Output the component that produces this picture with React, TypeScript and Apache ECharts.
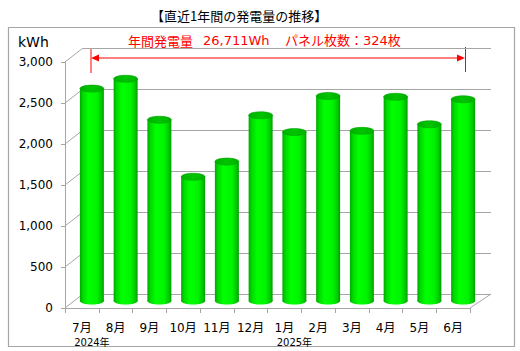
import React, { useEffect, useRef } from 'react';
import * as echarts from 'echarts';

const months = ['7月', '8月', '9月', '10月', '11月', '12月', '1月', '2月', '3月', '4月', '5月', '6月'];
const years = ['2024年', '', '', '', '', '', '2025年', '', '', '', '', ''];
const generation = [2590, 2710, 2210, 1515, 1700, 2265, 2060, 2500, 2075, 2490, 2155, 2460];
const yTicks = [0, 500, 1000, 1500, 2000, 2500, 3000];
const titleText = '【直近1年間の発電量の推移】';
const annoLabel = '年間発電量';
const annoTotal = '26,711Wh';
const annoPanels = 'パネル枚数：324枚';
const unitText = 'kWh';

const GRAY = '#a6a6a6';
const RED = '#ff0000';
const DX = 9;
const DY = 7;
const JP = '"Noto Sans CJK JP", sans-serif';
const NUM = '"DejaVu Sans", "Noto Sans CJK JP", sans-serif';

export default function App() {
  const ref = useRef<HTMLDivElement>(null);
  useEffect(() => {
    if (!ref.current) return;
    const chart = echarts.init(ref.current, undefined, { renderer: 'svg' });
    const bodyGrad = {
      type: 'linear', x: 0, y: 0, x2: 1, y2: 0,
      colorStops: [
        { offset: 0, color: '#00a800' },
        { offset: 0.12, color: '#00d800' },
        { offset: 0.35, color: '#00ff00' },
        { offset: 0.7, color: '#00f400' },
        { offset: 0.9, color: '#00c800' },
        { offset: 1, color: '#009a00' },
      ],
    };
    const topGrad = {
      type: 'linear', x: 0, y: 0, x2: 1, y2: 0,
      colorStops: [
        { offset: 0, color: '#00b000' },
        { offset: 0.5, color: '#00c400' },
        { offset: 1, color: '#00b000' },
      ],
    };
    const option: any = {
      animation: false,
      backgroundColor: '#ffffff',
      title: {
        text: titleText,
        left: 146,
        top: 4,
        textStyle: { fontSize: 13, fontWeight: 'normal', color: '#000', fontFamily: JP },
      },
      grid: [
        { left: 75, right: 40, top: 55, bottom: 50 },
        { left: 65, right: 50, top: 62, bottom: 43 },
        { left: 83, right: 29, top: 48, bottom: 57 },
      ],
      xAxis: [
        { gridIndex: 0, type: 'category', data: months, show: false },
        {
          gridIndex: 1, type: 'category', data: months,
          axisLine: { show: true, lineStyle: { color: GRAY } },
          axisTick: { show: true, length: 5, interval: 0, lineStyle: { color: GRAY } },
          axisLabel: { interval: 0, margin: 14, fontSize: 12, color: '#000', fontFamily: NUM },
        },
        {
          gridIndex: 1, type: 'category', data: years, position: 'bottom',
          axisLine: { show: false }, axisTick: { show: false },
          axisLabel: { interval: 0, margin: 29, fontSize: 10, color: '#000', fontFamily: NUM, padding: [0, 0, 0, 20] },
        },
        { gridIndex: 2, type: 'category', data: months, show: false },
      ],
      yAxis: [
        { gridIndex: 0, type: 'value', min: 0, max: 3000, interval: 500, show: false },
        {
          gridIndex: 1, type: 'value', min: 0, max: 3000, interval: 500,
          axisLine: { show: true, lineStyle: { color: GRAY } },
          axisTick: { show: true, length: 4, lineStyle: { color: GRAY } },
          splitLine: { show: false },
          axisLabel: {
            margin: 12, fontSize: 12, color: '#000', fontFamily: NUM,
            formatter: (v: number) => v.toLocaleString('en-US'),
          },
        },
        {
          gridIndex: 2, type: 'value', min: 0, max: 3000, interval: 500,
          axisLine: { show: false }, axisTick: { show: false }, axisLabel: { show: false },
          splitLine: { show: true, lineStyle: { color: GRAY, width: 1 } },
        },
      ],
      graphic: [
        { type: 'rect', shape: { x: 8.5, y: 27.5, width: 506, height: 319 }, style: { fill: 'none', stroke: GRAY, lineWidth: 1.2 }, z: -1 },
        { type: 'text', x: 18, y: 42, style: { text: unitText, fontSize: 14, fontFamily: NUM, fill: '#000', verticalAlign: 'middle' } },
        { type: 'text', x: 128, y: 40, style: { text: annoLabel, fontSize: 13, fontFamily: JP, fill: RED, verticalAlign: 'middle' } },
        { type: 'text', x: 203, y: 40, style: { text: annoTotal, fontSize: 13, fontFamily: NUM, fill: RED, verticalAlign: 'middle' } },
        { type: 'text', x: 285, y: 40, style: { text: annoPanels, fontSize: 13, fontFamily: NUM, fill: RED, verticalAlign: 'middle' } },
        { type: 'line', shape: { x1: 95, y1: 58, x2: 461, y2: 58 }, style: { stroke: RED, lineWidth: 1 } },
        { type: 'polygon', shape: { points: [[91, 58], [99, 54.5], [99, 61.5]] }, style: { fill: RED } },
        { type: 'polygon', shape: { points: [[465, 58], [457, 54.5], [457, 61.5]] }, style: { fill: RED } },
        { type: 'line', shape: { x1: 91, y1: 48, x2: 91, y2: 73 }, style: { stroke: RED, lineWidth: 1 } },
        { type: 'line', shape: { x1: 465.5, y1: 47, x2: 465.5, y2: 72 }, style: { stroke: RED, lineWidth: 1 } },
      ],
      series: [
        {
          type: 'custom',
          xAxisIndex: 0, yAxisIndex: 0,
          data: yTicks.map((v) => [0, v]),
          encode: { x: 0, y: 1 },
          silent: true,
          z: 1,
          renderItem: (params: any, api: any) => {
            const cs = params.coordSys;
            const v = api.value(1);
            const y = api.coord([0, v])[1];
            const style = { stroke: GRAY, lineWidth: 1 };
            const children: any[] = [
              { type: 'line', shape: { x1: cs.x - 10, y1: y + DY, x2: cs.x + 8, y2: y - DY }, style },
            ];
            if (v === 0) {
              children.push({
                type: 'line',
                shape: { x1: cs.x + cs.width - 10, y1: y + DY, x2: cs.x + cs.width + 11, y2: y - DY },
                style,
              });
            }
            return { type: 'group', children };
          },
        },
        {
          type: 'custom',
          name: '発電量',
          xAxisIndex: 0, yAxisIndex: 0,
          data: generation.map((v, i) => [i, v]),
          encode: { x: 0, y: 1 },
          z: 5,
          renderItem: (params: any, api: any) => {
            const i = api.value(0);
            const v = api.value(1);
            const top = api.coord([i, v]);
            const base = api.coord([i, 0]);
            const w = api.size([1, 0])[0] * 0.71;
            const rx = w / 2;
            const ry = 3.5;
            const cx = top[0];
            return {
              type: 'group',
              children: [
                { type: 'ellipse', shape: { cx, cy: base[1], rx, ry }, style: { fill: bodyGrad } },
                { type: 'rect', shape: { x: cx - rx, y: top[1], width: w, height: base[1] - top[1] }, style: { fill: bodyGrad } },
                { type: 'ellipse', shape: { cx, cy: top[1], rx, ry }, style: { fill: topGrad, stroke: '#00a400', lineWidth: 0.6 } },
              ],
            };
          },
        },
      ],
    };
    chart.setOption(option);
    return () => chart.dispose();
  }, []);
  return <div ref={ref} style={{ position: 'fixed', left: 0, top: 0, width: 520, height: 351 }} />;
}
